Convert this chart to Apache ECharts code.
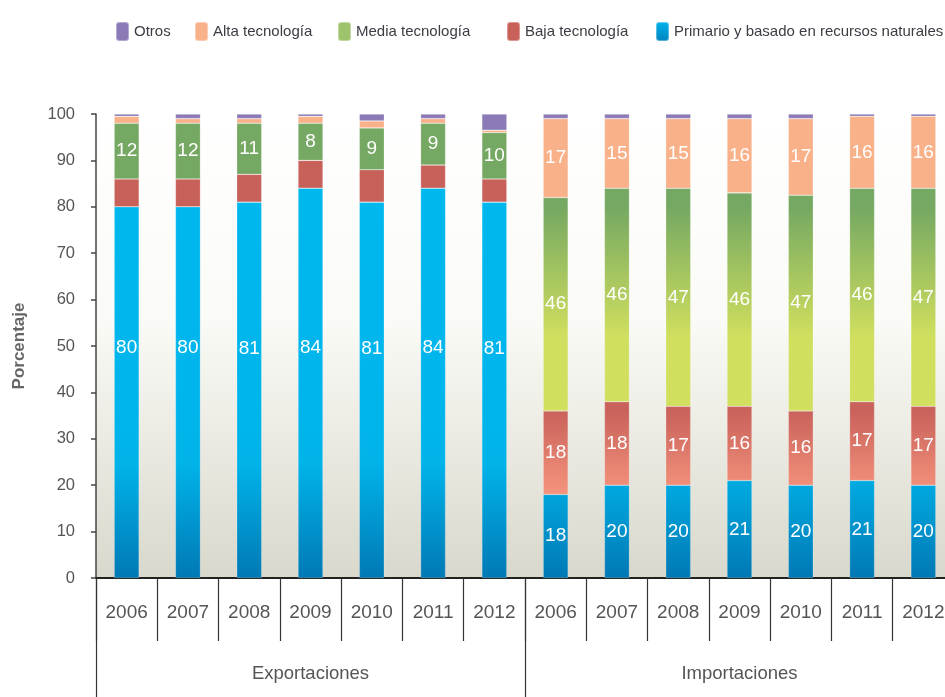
<!DOCTYPE html>
<html>
<head>
<meta charset="utf-8">
<script src="https://cdn.jsdelivr.net/npm/echarts@6/dist/echarts.min.js"></script>
<style>
html, body { margin: 0; padding: 0; background: #fff; }
#chart { width: 945px; height: 697px; }
</style>
</head>
<body>
<div id="chart"></div>
<script>
var years = ['2006', '2007', '2008', '2009', '2010', '2011', '2012',
	'2006', '2007', '2008', '2009', '2010', '2011', '2012'];
var groups = ['Exportaciones', 'Importaciones'];
var yTicks = [0, 10, 20, 30, 40, 50, 60, 70, 80, 90, 100];

// exportaciones 2006-2012, luego importaciones 2006-2012
var primario = [80, 80, 81, 84, 81, 84, 81, 18, 20, 20, 21, 20, 21, 20];
var baja = [6, 6, 6, 6, 7, 5, 5, 18, 18, 17, 16, 16, 17, 17];
var media = [12, 12, 11, 8, 9, 9, 10, 46, 46, 47, 46, 46.5, 46, 47];
var alta = [1.5, 1, 1, 1.5, 1.5, 1, 0.5, 17, 15, 15, 16, 16.5, 15.5, 15.5];
var otros = [0.5, 1, 1, 0.5, 1.5, 1, 3.5, 1, 1, 1, 1, 1, 0.5, 0.5];

var nombres = ['Otros', 'Alta tecnología', 'Media tecnología', 'Baja tecnología',
	'Primario y basado en recursos naturales'];

var FONT = "'Liberation Sans', Arial, sans-serif";
var GTOP = 114, GBOT = 578;

function vgrad(stops) {
	return {
		type: 'linear', x: 0, y: GTOP, x2: 0, y2: GBOT, global: true,
		colorStops: stops
	};
}

var colBlue = vgrad([
	{offset: 0, color: '#00b9ef'},
	{offset: 0.75, color: '#00b4ea'},
	{offset: 1, color: '#0079b5'}
]);
var colBaja = vgrad([
	{offset: 0, color: '#c8605a'},
	{offset: 0.64, color: '#c9625b'},
	{offset: 0.82, color: '#f5947d'},
	{offset: 1, color: '#f5947d'}
]);
var colMedia = vgrad([
	{offset: 0, color: '#75a862'},
	{offset: 0.2, color: '#75a862'},
	{offset: 0.48, color: '#d0df5e'},
	{offset: 1, color: '#d3e15f'}
]);

function lbl(v) {
	return v >= 8 ? Math.round(v) : '';
}

function build(vals, isPrim) {
	var out = [];
	for (var i = 0; i < vals.length; i++) {
		var item = {value: vals[i]};
		// en exportaciones la etiqueta del primario queda a media altura del eje
		if (isPrim && i < 7) {
			item.label = {position: ['50%', Math.round((vals[i] - 49.5) / vals[i] * 100) + '%']};
		}
		out.push(item);
	}
	return out;
}

function serie(name, vals, color, showLbl, isPrim) {
	return {
		name: name,
		type: 'bar',
		stack: 'total',
		barWidth: 25,
		data: build(vals, isPrim),
		itemStyle: {color: color, borderColor: 'rgba(255,255,255,0.35)', borderWidth: 0.6},
		label: {
			show: showLbl,
			position: 'inside',
			color: '#fff',
			fontFamily: FONT,
			fontSize: 19,
			align: 'center',
			verticalAlign: 'middle',
			formatter: function (p) { return lbl(p.value); }
		},
		emphasis: {disabled: true}
	};
}

var legendLeft = [110, 189, 332, 501, 650];
var legendIcon = ['#8b7ab5', '#f9b18a', '#9dc46c', '#c8615a',
	{type: 'linear', x: 0, y: 0, x2: 0, y2: 1, colorStops: [
		{offset: 0, color: '#00b4ec'}, {offset: 1, color: '#0082bd'}]}];
var legends = [];
for (var i = 0; i < nombres.length; i++) {
	legends.push({
		data: [{name: nombres[i], itemStyle: {color: legendIcon[i]}}],
		left: legendLeft[i],
		top: 16,
		itemWidth: 13,
		itemHeight: 19,
		itemGap: 5,
		selectedMode: false,
		textStyle: {fontFamily: FONT, fontSize: 15, color: '#3c3c44'}
	});
}

var chart = echarts.init(document.getElementById('chart'));
var option = {
	animation: false,
	legend: legends,
	grid: {
		left: 96, top: GTOP, width: 858, height: GBOT - GTOP,
		outerBoundsMode: 'none',
		show: true, borderWidth: 0,
		backgroundColor: {
			type: 'linear', x: 0, y: 0, x2: 0, y2: 1,
			colorStops: [
				{offset: 0, color: '#ffffff'},
				{offset: 0.45, color: '#fafaf6'},
				{offset: 1, color: '#d9d8cc'}
			]
		}
	},
	xAxis: [{
		type: 'category',
		data: years,
		position: 'bottom',
		axisLine: {show: true, lineStyle: {color: '#222', width: 2}},
		axisTick: {show: true, length: 63, lineStyle: {color: '#333', width: 1.2}},
		axisLabel: {margin: 25, fontFamily: FONT, fontSize: 19, color: '#555', interval: 0},
		splitLine: {show: false}
	}, {
		type: 'category',
		data: groups,
		position: 'bottom',
		axisLine: {show: false},
		axisTick: {show: true, length: 122, lineStyle: {color: '#333', width: 1.2}},
		axisLabel: {margin: 86, fontFamily: FONT, fontSize: 18.5, color: '#555', interval: 0},
		splitLine: {show: false}
	}],
	yAxis: {
		type: 'value',
		min: yTicks[0],
		max: yTicks[yTicks.length - 1],
		interval: 10,
		name: 'Porcentaje',
		nameLocation: 'middle',
		nameGap: 68,
		nameTextStyle: {fontFamily: FONT, fontWeight: 'bold', fontSize: 17, color: '#666'},
		axisLine: {show: true, lineStyle: {color: '#444', width: 1.5}},
		axisTick: {show: true, length: 5, lineStyle: {color: '#444', width: 1.5}},
		axisLabel: {margin: 21, fontFamily: FONT, fontSize: 16.5, color: '#555'},
		splitLine: {show: false}
	},
	series: [
		serie(nombres[4], primario, colBlue, true, true),
		serie(nombres[3], baja, colBaja, true, false),
		serie(nombres[2], media, colMedia, true, false),
		serie(nombres[1], alta, '#f9b18a', true, false),
		serie(nombres[0], otros, '#8b7ab5', false, false)
	]
};
chart.setOption(option);
</script>
</body>
</html>
